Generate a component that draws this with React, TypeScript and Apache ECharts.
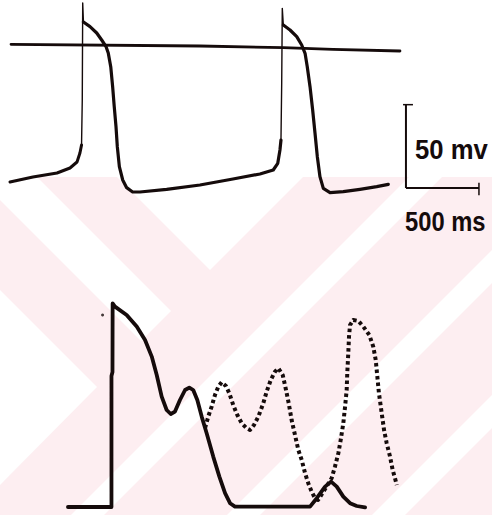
import React, { useEffect, useRef } from "react";
import * as echarts from "echarts";

// ---------- data (time in ms, membrane potential in mV) ----------
const zeroLine: [number, number][] = [
  [7, 1.6], [1301, 0.6], [1872, -0.4], [2212, -1.4], [2671, -2.4],
];
const apFoot1: [number, number][] = [
  [0, -81], [157, -78], [322, -75.6], [411, -72.6], [459, -69], [479, -63.6], [490, -58.8],
];
const apSpike1: [number, number][] = [
  [490, -58.8], [495, -31.8], [498, 26.4], [503, 15],
];
const apBeat1: [number, number][] = [
  [503, 15], [548, 12.2], [594, 8.4], [628, 4.2], [658, 0.2], [673, -3.6], [690, -11.8],
  [703, -23.8], [714, -35.8], [726, -47.8], [735, -59.8], [749, -71.8], [772, -79.8],
  [799, -84.4], [840, -87], [890, -87], [1073, -85.4], [1301, -82.8], [1527, -79.2],
  [1712, -76.2], [1803, -73.8], [1834, -69.8], [1849, -61.8], [1856, -55.8],
];
const apSpike2: [number, number][] = [
  [1856, -55.8], [1861, -21.6], [1865, 23.2], [1872, 13.2],
];
const apBeat2: [number, number][] = [
  [1872, 13.2], [1918, 10.2], [1964, 6.2], [1998, 1.2], [2021, -3.8], [2036, -11.8],
  [2055, -23.8], [2073, -37.8], [2089, -51.6], [2105, -65.8], [2123, -77.8], [2146, -84.8],
  [2192, -87.4], [2283, -86.8], [2397, -85.4], [2512, -83.8], [2591, -82.4],
];
// scale bar: 50 mV / 500 ms
const scaleBarVertical: [number, number][] = [[2712, -34.6], [2712, -84.6]];
const scaleBarHorizontal: [number, number][] = [[2712, -84.6], [3212, -84.6]];
const scaleBarTopCap: [number, number][] = [[2692, -34.6], [2760, -34.6]];
const scaleBarEndTick: [number, number][] = [[3212, -81.5], [3212, -89]];
const scaleLabels = ["50 mv", "500 ms"];

// lower panel (arbitrary units)
const lowerSolid: [number, number][] = [
  [397, 0], [695, 0], [695, 65.5], [702, 67.5], [703, 101.8], [719, 100.2], [799, 96],
  [868, 90.2], [925, 83.5], [971, 75.2], [1005, 66], [1039, 55.2], [1073, 48.5],
  [1101, 46.5], [1130, 47.7], [1164, 53.5], [1199, 58.5], [1228, 59.7], [1255, 58.5],
  [1283, 53.5], [1313, 45.2], [1347, 36.9], [1392, 25.2], [1434, 15.2], [1473, 6.9],
  [1507, 1.9], [1541, 0.2], [2055, 0.2], [2101, 4.4], [2158, 10.2], [2199, 12.7],
  [2238, 10.2], [2283, 5.2], [2329, 1.9], [2375, 0.5], [2432, -0.2],
];
const lowerDotted: [number, number][] = [
  [1336, 39.5], [1358, 45.2], [1381, 50.2], [1404, 56], [1427, 60.2], [1450, 62.4],
  [1479, 60.5], [1502, 56.9], [1529, 51], [1557, 46], [1587, 41.9], [1621, 39.4],
  [1644, 38.5], [1671, 41], [1701, 45.2], [1735, 51.9], [1758, 57.7], [1786, 63.5],
  [1815, 67.7], [1838, 69.4], [1868, 66], [1888, 59.4], [1909, 51.9], [1929, 43.5],
  [1952, 36], [1975, 28.5], [1998, 23.5], [2021, 16.9], [2043, 11.9], [2066, 7.7],
  [2089, 4.4], [2110, 3.5], [2158, 9], [2203, 14.4], [2226, 20.2], [2249, 26.9],
  [2265, 33.5], [2283, 41.9], [2295, 50.2], [2306, 58.5], [2310, 66.9], [2317, 76.9],
  [2322, 85.2], [2329, 91], [2351, 93.5], [2386, 93], [2420, 90.2], [2461, 86],
  [2488, 80.2], [2505, 73.5], [2516, 65.2], [2527, 56.9], [2546, 46.9], [2562, 38.5],
  [2580, 31.9], [2603, 25.2], [2621, 18.5], [2637, 14.4], [2649, 11],
];
const strayDot: [number, number][] = [[634, 96]];

const INK = "#150b0b";
const PINK = "#fdeef1";

function lineSeries(data: [number, number][], panel: number, width: number, extra: any = {}) {
  return {
    type: "line",
    xAxisIndex: panel,
    yAxisIndex: panel,
    data,
    symbol: "none",
    clip: false,
    silent: true,
    lineStyle: { color: INK, width, cap: "round", join: "round", ...extra },
  };
}

export default function App() {
  const ref = useRef<HTMLDivElement>(null);
  useEffect(() => {
    document.body.style.margin = "0";
    const chart = echarts.init(ref.current!, null, { renderer: "svg" });
    const white = { fill: "#ffffff" };
    chart.setOption({
      animation: false,
      backgroundColor: "#ffffff",
      grid: [
        { left: 10, top: 0, width: 474.5, height: 200 },
        { left: 10, top: 307, width: 474.5, height: 200 },
      ],
      xAxis: [
        { type: "value", gridIndex: 0, min: 0, max: 3250, show: false },
        { type: "value", gridIndex: 1, min: 0, max: 3250, show: false },
      ],
      yAxis: [
        { type: "value", gridIndex: 0, min: -91.8, max: 28.2, show: false },
        { type: "value", gridIndex: 1, min: 0, max: 100, show: false },
      ],
      graphic: [
        { type: "rect", silent: true, z: -10, shape: { x: 0, y: 177, width: 492, height: 338 }, style: { fill: PINK } },
        { type: "polygon", silent: true, z: -9, shape: { points: [[117, 177], [303, 177], [210, 270]] }, style: white },
        { type: "polygon", silent: true, z: -9, shape: { points: [[0, 177], [37, 177], [171, 311], [141, 341], [0, 200]] }, style: white },
        { type: "polygon", silent: true, z: -9, shape: { points: [[0, 290], [97, 387], [0, 485]] }, style: white },
        { type: "polygon", silent: true, z: -9, shape: { points: [[409, 177], [442, 177], [104, 515], [71, 515]] }, style: white },
        { type: "polygon", silent: true, z: -9, shape: { points: [[492, 250], [492, 283], [260, 515], [227, 515]] }, style: white },
        { type: "polygon", silent: true, z: -9, shape: { points: [[492, 395], [492, 428], [405, 515], [372, 515]] }, style: white },
        {
          type: "text", x: 415, y: 150, scaleX: 0.95, scaleY: 1.05, z: 10,
          style: { text: scaleLabels[0], font: 'bold 27px "Liberation Sans", Arial, sans-serif', fill: INK, verticalAlign: "middle", align: "left" },
        },
        {
          type: "text", x: 405, y: 221, scaleX: 0.88, scaleY: 1.05, z: 10,
          style: { text: scaleLabels[1], font: 'bold 27px "Liberation Sans", Arial, sans-serif', fill: INK, verticalAlign: "middle", align: "left" },
        },
      ],
      series: [
        lineSeries(zeroLine, 0, 2.8),
        lineSeries(apFoot1, 0, 3),
        lineSeries(apSpike1, 0, 1.4),
        lineSeries(apBeat1, 0, 3.2),
        lineSeries(apSpike2, 0, 1.4),
        lineSeries(apBeat2, 0, 3.2),
        lineSeries(scaleBarVertical, 0, 2, { cap: "butt" }),
        lineSeries(scaleBarHorizontal, 0, 2.2, { cap: "butt" }),
        lineSeries(scaleBarTopCap, 0, 1.5, { cap: "butt" }),
        lineSeries(scaleBarEndTick, 0, 1.5, { cap: "butt" }),
        lineSeries(lowerSolid, 1, 3.8),
        lineSeries(lowerDotted, 1, 4, { type: [3.5, 3], cap: "butt" }),
        {
          type: "scatter", xAxisIndex: 1, yAxisIndex: 1, data: strayDot, symbol: "circle",
          symbolSize: 3, silent: true, clip: false, itemStyle: { color: INK },
        },
      ],
    });
    return () => chart.dispose();
  }, []);
  return <div ref={ref} style={{ width: 492, height: 515 }} />;
}
